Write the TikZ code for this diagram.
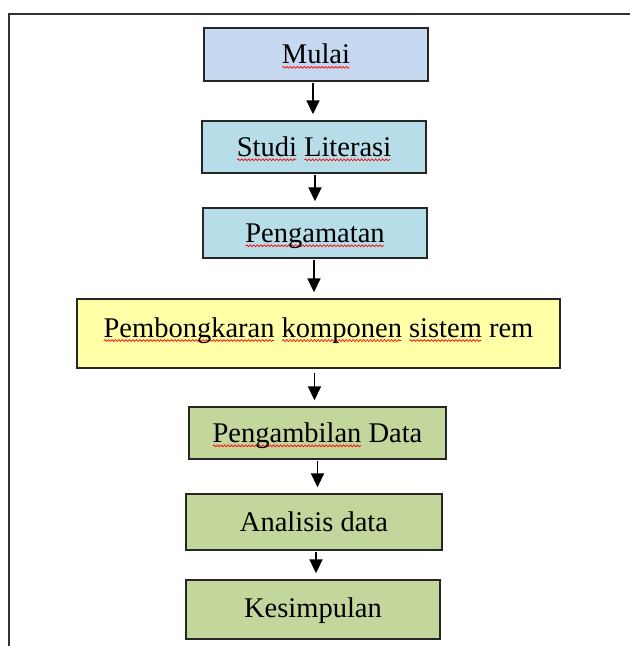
\documentclass[tikz,border=0pt]{standalone}
\usepackage{fontspec}
\setmainfont{Liberation Serif}
\usetikzlibrary{arrows.meta,decorations.pathmorphing}
\definecolor{cblue}{HTML}{C6D9F0}
\definecolor{caqua}{HTML}{B7DDE8}
\definecolor{cyel}{HTML}{FFFFA8}
\definecolor{cgreen}{HTML}{C3D69B}
\newlength\sqw
\newcommand\sq[1]{\settowidth\sqw{#1}\rlap{\tikz[baseline=0pt,x=1pt,y=1pt]\draw[red,line width=0.7pt,decorate,decoration={snake,amplitude=0.9pt,segment length=3.5pt}] (0.5,-3.5) -- (\sqw-0.5pt,-3.5);}#1}
\begin{document}
\begin{tikzpicture}[x=1pt,y=-1pt,
  box/.style={draw=black!85,line width=1.4pt,inner sep=0pt,
    font=\fontsize{28.5}{34}\selectfont,text height=24pt,text depth=5.4pt},
  arr/.style={line width=1.8pt,-{Triangle[length=14pt,width=13pt]},
    shorten <=1.5pt,shorten >=6pt}]
\useasboundingbox (0,0) rectangle (630,646);
\draw[line width=1.5pt,black!80] (9,646) -- (9,14) -- (630,14);
\node[box,fill=cblue,minimum width=224pt,minimum height=53pt] (m) at (316,54.5) {\sq{Mulai}};
\node[box,fill=caqua,minimum width=224pt,minimum height=52pt] (s) at (314,147) {\sq{Studi} \sq{Literasi}};
\node[box,fill=caqua,minimum width=224pt,minimum height=50pt] (p) at (315,233) {\sq{Pengamatan}};
\node[box,fill=cyel,minimum width=483pt,minimum height=69pt,text depth=17pt] (b) at (318.5,333.5) {\sq{Pembongkaran} \sq{komponen} \sq{sistem} rem};
\node[box,fill=cgreen,minimum width=257pt,minimum height=52pt] (d) at (317.5,433) {\sq{Pengambilan} Data};
\node[box,fill=cgreen,minimum width=256pt,minimum height=56pt] (a) at (314,522) {Analisis data};
\node[box,fill=cgreen,minimum width=254pt,minimum height=59pt,text depth=9pt] (k) at (313,609.5) {Kesimpulan};
\draw[arr] ([xshift=-3pt]m.south) -- ([xshift=-3pt]m.south |- s.north);
\draw[arr] ([xshift=1pt]s.south) -- ([xshift=1pt]s.south |- p.north);
\draw[arr] ([xshift=-1pt]p.south) -- ([xshift=-1pt]p.south |- b.north);
\draw[arr,shorten <=4pt] ([xshift=-4pt]b.south) -- ([xshift=-4pt]b.south |- d.north);
\draw[arr] (d.south) -- (d.south |- a.north);
\draw[arr] ([xshift=2pt]a.south) -- ([xshift=2pt]a.south |- k.north);
\end{tikzpicture}
\end{document}
